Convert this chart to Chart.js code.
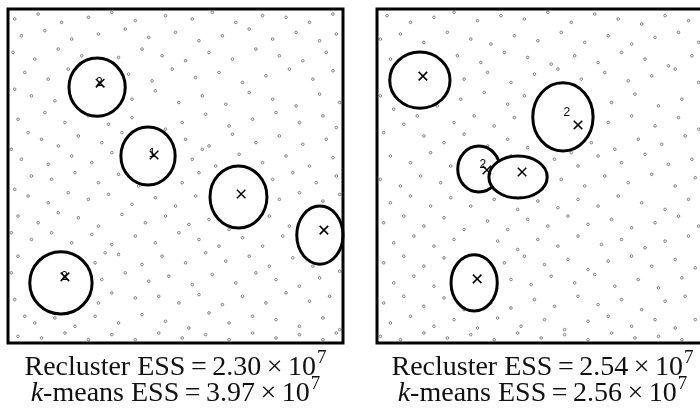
<!DOCTYPE html>
<html>
<head>
<meta charset="utf-8">
<script src="https://cdn.jsdelivr.net/npm/chart.js@4/dist/chart.umd.min.js"></script>
<style>
  html, body { margin: 0; padding: 0; background: #fff; overflow: hidden; width: 700px; height: 409px; }
  canvas { position: absolute; top: 0; }
  #leftChart { left: 0; }
  #rightChart { left: 369px; }
  .line {
    position: absolute; width: 351px; text-align: center;
    font-family: "Liberation Serif", serif; font-size: 28px; line-height: 30px; color: #111;
    white-space: nowrap;
  }
  .line .op { margin: 0 5.5px; }
  .line sup { font-size: 19px; line-height: 0; position: relative; vertical-align: baseline; top: -12px; margin-left: 1px; }
  .line i { font-style: italic; }
</style>
</head>
<body>
<canvas id="leftChart" width="351" height="351"></canvas>
<canvas id="rightChart" width="351" height="351"></canvas>
<div class="line" style="left:0;top:351px">Recluster ESS<span class="op">=</span>2.30<span class="op">&times;</span>10<sup>7</sup></div>
<div class="line" style="left:0;top:377px"><i>k</i>-means ESS<span class="op">=</span>3.97<span class="op">&times;</span>10<sup>7</sup></div>
<div class="line" style="left:367px;top:351px">Recluster ESS<span class="op">=</span>2.54<span class="op">&times;</span>10<sup>7</sup></div>
<div class="line" style="left:367px;top:377px"><i>k</i>-means ESS<span class="op">=</span>2.56<span class="op">&times;</span>10<sup>7</sup></div>
<script>
// Background points (x, y on a 0-100 square)
const leftPoints = [
  [2,97],[9,98.5],[16,96],[24,97.5],[31,99],[38,96.5],[47,98],[55,97],[61,99],[68,96],[76,98],[83,97.5],[90,96],[97,98.5],
  [4,92],[11,93.5],[19,91],[27,92.5],[35,94],[42,91.5],[50,93],[57,90.5],[64,92],[72,94],[79,91],[86,93],[93,90.5],[98,92.5],
  [1.5,87],[8,85],[15,88],[22,86],[33,85.5],[40,88],[46,86],[53,84.5],[60,87],[67,85],[74,88],[81,86],[88,84.5],[95,87],
  [5,81],[12,79],[18,82],[36,80.5],[43,78.5],[49,82],[56,79.5],[63,81],[70,78],[77,80],[84,82],[91,79],[97,81.5],[2,76],
  [7,74],[14,72.5],[20,75],[37,73],[44,75.5],[51,72],[58,74],[65,71.5],[72,75],[79,73],[86,71],[93,74.5],[99,72],[11,69],
  [3,67],[17,66],[24,68],[30,65.5],[37,67.5],[52,66],[59,68.5],[66,65],[73,67],[80,69],[87,66],[94,68],[6,63],[98,64.5],
  [10,61],[15,59],[21,62],[28,60],[34,63],[53,61],[60,59],[67,62.5],[74,60],[81,62],[88,59.5],[95,61],[1,58],[47,64],
  [4,55],[12,53.5],[19,56],[25,54],[31,57],[55,55],[62,53],[69,56.5],[76,54],[83,56],[90,53],[97,55.5],[7,50],[58,58],
  [13,49],[20,51],[27,48],[33,50.5],[39,47],[46,49.5],[52,48],[57,51],[79,49],[85,51],[92,48],[98,50],[2,46],[63,47],
  [6,44],[12,42],[18,45],[24,43],[30,44.5],[37,41.5],[44,43.5],[50,41],[56,44],[81,43],[87,45],[94,42.5],[99,44.5],[15,39],
  [3,38],[9,36],[21,37.5],[27,35],[34,38.5],[41,36],[47,38],[54,35.5],[60,37],[66,34],[72,36.5],[78,38],[84,35],[1,33],
  [7,31],[13,33],[19,30],[25,32.5],[31,29.5],[38,32],[44,30],[51,33],[57,31],[63,29],[70,31.5],[76,29],[82,32],[29,27],
  [3,26],[26,24],[33,26.5],[40,23.5],[46,26],[53,24],[59,27],[65,24.5],[72,26],[78,23],[85,25.5],[91,23],[97,26],[1,21],
  [28,19],[35,21],[42,18.5],[48,20],[55,17.5],[61,20.5],[68,18],[74,21],[80,19],[87,17],[93,19.5],[99,21.5],[31,15],[45,14],
  [2,13],[5,8],[27,12],[38,13.5],[51,12],[57,14.5],[64,11.5],[70,14],[77,12],[83,15],[90,12.5],[96,14],[60,9],[73,8],
  [8,6],[14,7.5],[20,5],[26,8],[33,6],[40,8.5],[47,6.5],[54,4.5],[66,6],[80,7],[87,5],[94,7.5],[99,4],
  [3,2],[10,1.5],[17,3],[24,1],[31,2.5],[38,1],[45,3],[52,1.5],[59,2.5],[66,1],[73,3],[80,1.5],[87,2.5],[94,1],[98,3]
];
const rightPoints = [
  [3,98],[10,96],[17,97.5],[23,99],[30,96.5],[37,98],[44,97],[51,99],[58,96],[65,98.5],[72,97],[79,95.5],[86,98],[93,96.5],[99,98],
  [1,91],[7,92.5],[14,90],[21,93],[28,91],[34,89.5],[41,92],[48,90.5],[55,93],[62,90],[69,92],[76,89.5],[83,91.5],[90,93],[96,90],
  [4,85],[24,86],[31,84],[38,87],[45,85.5],[52,83.5],[59,86],[66,84],[73,87],[80,85],[87,83],[94,86],
  [26,79],[33,81],[40,78],[47,80.5],[54,82],[61,79],[68,81],[75,78.5],[82,80],[89,82],[96,78],[1,74],
  [25,73],[32,75],[39,71.5],[44,74],[70,72],[77,74.5],[84,71],[91,73],[98,75],[5,70],[12,68],[18,71],
  [23,66],[29,68],[35,65],[41,67.5],[47,64.5],[69,66],[76,68],[83,65],[90,67.5],[96,64],[2,63],[8,65.5],
  [14,62],[20,60],[26,62.5],[33,59],[39,61],[45,58.5],[51,61.5],[58,57],[64,60],[71,58],[78,61],[85,59.5],[92,62],[98,58.5],
  [4,56],[10,54],[16,57],[22,53],[40,56],[53,55],[60,53],[66,56],[73,54],[80,56.5],[87,53.5],[94,55],
  [1,49],[7,47],[13,50],[19,48],[55,49],[62,47],[68,50],[75,48],[82,50.5],[89,47],[95,49.5],[99,51],
  [4,42],[10,44],[16,41],[22,43.5],[28,41],[35,43],[42,40],[48,42.5],[54,40.5],[60,43],[66,41],[72,44],[79,42],[86,40],[93,43],[98,41],
  [2,36],[8,38],[14,35],[20,37.5],[26,34],[33,36.5],[39,34],[45,37],[51,35],[57,38],[63,35.5],[70,37],[76,34.5],[83,36],[90,38],[96,35],
  [5,30],[11,32],[17,29],[23,31],[36,30.5],[42,28],[48,31],[54,29],[60,32],[67,29.5],[73,31],[80,28.5],[86,30.5],[93,32],[99,29],
  [2,24],[8,26],[14,23],[20,25.5],[38,24],[44,26],[50,23.5],[57,25],[63,22],[69,24.5],[76,26],[82,23],[89,25],[95,22.5],
  [5,18],[11,20],[17,17],[40,19],[46,17.5],[52,20],[59,18],[65,20.5],[71,17],[78,19],[84,16.5],[91,19.5],[97,17],
  [2,12],[8,14],[14,11],[20,13.5],[26,10],[34,12],[40,10.5],[47,13],[53,11],[60,14],[66,11.5],[73,13],[79,10],[86,12.5],[92,14],[98,11],
  [4,6],[10,8],[17,5],[23,7],[30,4.5],[36,7.5],[43,5],[50,7],[56,4],[63,6.5],[69,8],[76,5],[83,7],[89,4.5],[95,7],
  [1,2],[7,1],[14,3],[21,1.5],[28,2.5],[35,1],[42,3],[49,1.5],[56,2.5],[63,1],[70,3],[77,1.5],[84,2],[91,1],[97,2.5]
];

// Cluster ellipses: [centerX, centerY, radiusX, radiusY]
const leftEllipses = [[26.6,76.6,8.4,8.7],[41.8,56.0,8.1,8.7],[68.8,43.7,8.5,9.3],[93.1,32.3,6.9,8.7],[15.8,18.0,9.3,9.3]];
const rightEllipses = [[12.8,78.7,9.0,8.4],[55.5,67.7,9.0,10.2],[30.4,52.1,6.3,6.9],[42.1,49.7,8.7,6.3],[29.0,18.0,6.9,8.4]];

// Estimated centres (x marks)
const leftCenters = [[27.5,77.8],[43.6,56.3],[69.6,44.6],[94.3,33.8],[17.0,19.8]];
const rightCenters = [[13.7,79.9],[60.0,65.3],[32.8,51.8],[43.3,51.2],[29.9,19.2]];

// Number labels: [x, y, text]
const leftLabels = [[27.3,77.8,"2"],[43.0,56.6,"1"],[16.8,19.8,"2"]];
const rightLabels = [[56.7,68.9,"2"],[31.6,53.3,"2"]];

function toXY(list) {
  return list.map(p => ({ x: p[0], y: p[1] }));
}

function makeOverlay(ellipses, labels) {
  return {
    id: 'overlay',
    afterDatasetDraw(chart, args) {
      if (args.index !== 0) return;
      const ctx = chart.ctx;
      const xs = chart.scales.x, ys = chart.scales.y;
      ctx.save();
      ctx.lineWidth = 3;
      ctx.strokeStyle = '#000';
      ctx.fillStyle = '#fff';
      ellipses.forEach(e => {
        const cx = xs.getPixelForValue(e[0]);
        const cy = ys.getPixelForValue(e[1]);
        const rx = Math.abs(xs.getPixelForValue(e[0] + e[2]) - cx);
        const ry = Math.abs(ys.getPixelForValue(e[1] + e[3]) - cy);
        ctx.beginPath();
        ctx.ellipse(cx, cy, rx, ry, 0, 0, Math.PI * 2);
        ctx.fill();
        ctx.stroke();
      });
      ctx.restore();
    },
    afterDatasetsDraw(chart) {
      const ctx = chart.ctx;
      const xs = chart.scales.x, ys = chart.scales.y;
      const a = chart.chartArea;
      ctx.save();
      ctx.fillStyle = '#000';
      ctx.font = '12px "Liberation Sans", Arial, sans-serif';
      ctx.textAlign = 'center';
      ctx.textBaseline = 'middle';
      labels.forEach(l => {
        ctx.fillText(l[2], xs.getPixelForValue(l[0]), ys.getPixelForValue(l[1]));
      });
      // frame
      ctx.lineWidth = 3;
      ctx.strokeStyle = '#000';
      ctx.strokeRect(a.left, a.top, a.right - a.left, a.bottom - a.top);
      ctx.restore();
    }
  };
}

function makePanel(id, points, ellipses, centers, labels) {
  new Chart(document.getElementById(id), {
    type: 'scatter',
    data: {
      datasets: [{
        data: toXY(points),
        order: 2,
        pointStyle: 'circle',
        pointRadius: 1.3,
        borderWidth: 0.8,
        borderColor: '#666',
        backgroundColor: 'rgba(0,0,0,0)'
      }, {
        data: toXY(centers),
        order: 1,
        pointStyle: 'crossRot',
        pointRadius: 6,
        borderWidth: 1.5,
        borderColor: '#000'
      }]
    },
    options: {
      responsive: false,
      animation: false,
      events: [],
      layout: { padding: { left: 8, top: 9, right: 8, bottom: 8 } },
      plugins: { legend: { display: false }, tooltip: { enabled: false } },
      scales: {
        x: { type: 'linear', min: 0, max: 100, display: false },
        y: { type: 'linear', min: 0, max: 100, display: false }
      }
    },
    plugins: [makeOverlay(ellipses, labels)]
  });
}

makePanel('leftChart', leftPoints, leftEllipses, leftCenters, leftLabels);
makePanel('rightChart', rightPoints, rightEllipses, rightCenters, rightLabels);
</script>
</body>
</html>
